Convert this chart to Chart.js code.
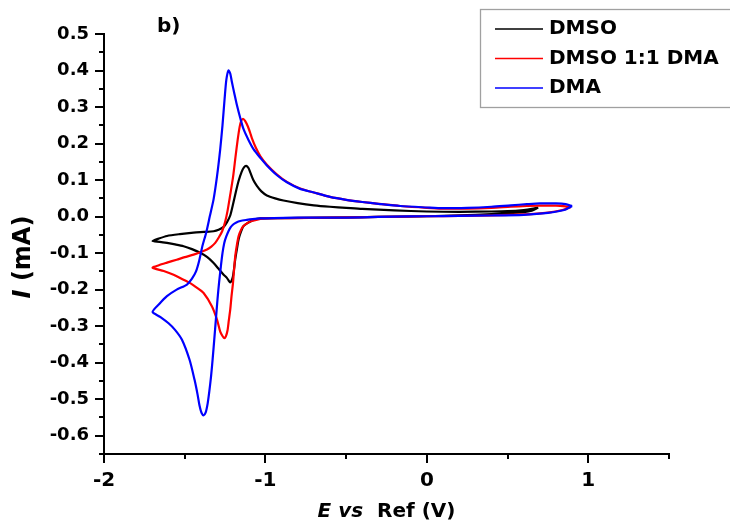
<!DOCTYPE html>
<html>
<head>
<meta charset="utf-8">
<script src="https://cdn.jsdelivr.net/npm/chart.js@4.4.0/dist/chart.umd.min.js"></script>
<style>
  html, body { margin: 0; padding: 0; background: #fff; }
</style>
</head>
<body>
<canvas id="cv" width="730" height="523"></canvas>
<script>
// Cyclic voltammograms: each loop starts at the positive switching potential,
// runs the cathodic sweep down to -1.7 V and the anodic sweep back.
const seriesNames = ['DMSO', 'DMSO 1:1 DMA', 'DMA'];
const seriesColors = ['#000000', '#ff0000', '#0000ff'];

// DMSO
const dmsoE = [0.69, 0.65, 0.60, 0.50, 0.30, 0.00, -0.30, -0.60, -0.90, -1.03, -1.074, -1.105, -1.136, -1.152,
  -1.166, -1.177, -1.187, -1.195, -1.201, -1.210, -1.218, -1.228, -1.240, -1.259, -1.290, -1.321, -1.360,
  -1.404, -1.455, -1.507, -1.560, -1.610, -1.655, -1.699,
  -1.660, -1.610, -1.530, -1.445, -1.380, -1.321, -1.290, -1.259, -1.238, -1.218, -1.200, -1.183, -1.166,
  -1.148, -1.133, -1.119, -1.105, -1.094, -1.075, -1.053, -1.025, -0.991, -0.940, -0.888, -0.800, -0.700,
  -0.600, -0.500, -0.400, -0.200, 0.000, 0.200, 0.400, 0.500, 0.600, 0.650, 0.690];
const dmsoI = [0.025, 0.016, 0.012, 0.009, 0.005, 0.001, -0.001, -0.003, -0.004, -0.005, -0.009, -0.016, -0.026, -0.042,
  -0.062, -0.090, -0.117, -0.145, -0.163, -0.176, -0.180, -0.175, -0.167, -0.159, -0.143, -0.127, -0.111,
  -0.099, -0.089, -0.081, -0.076, -0.072, -0.069, -0.067,
  -0.060, -0.053, -0.048, -0.044, -0.042, -0.040, -0.036, -0.028, -0.015, 0.003, 0.035, 0.068, 0.098,
  0.122, 0.135, 0.139, 0.133, 0.121, 0.100, 0.084, 0.069, 0.058, 0.050, 0.044, 0.037, 0.031,
  0.027, 0.024, 0.021, 0.017, 0.014, 0.013, 0.014, 0.015, 0.018, 0.021, 0.025];

// DMSO 1:1 DMA
const mixE = [0.89, 0.84, 0.75, 0.60, 0.40, 0.20, 0.00, -0.30, -0.60, -0.85, -1.00, -1.032, -1.084, -1.110,
  -1.136, -1.152, -1.166, -1.177, -1.187, -1.195, -1.201, -1.210, -1.218, -1.227, -1.235, -1.245, -1.255,
  -1.266, -1.280, -1.300, -1.331, -1.383, -1.430, -1.466, -1.520, -1.569, -1.630, -1.699,
  -1.660, -1.610, -1.550, -1.500, -1.445, -1.400, -1.362, -1.335, -1.311, -1.290, -1.268, -1.250, -1.235,
  -1.218, -1.200, -1.185, -1.172, -1.160, -1.150, -1.139, -1.126, -1.110, -1.095, -1.084, -1.060, -1.030,
  -0.991, -0.930, -0.867, -0.785, -0.700, -0.600, -0.500, -0.400, -0.300, -0.165, 0.000, 0.100, 0.250,
  0.400, 0.520, 0.620, 0.700, 0.800, 0.860, 0.890];
const mixI = [0.026, 0.018, 0.011, 0.006, 0.003, 0.002, 0.001, -0.001, -0.003, -0.004, -0.005, -0.006, -0.012, -0.017,
  -0.026, -0.037, -0.053, -0.078, -0.108, -0.150, -0.182, -0.218, -0.255, -0.285, -0.312, -0.328, -0.333,
  -0.327, -0.315, -0.282, -0.246, -0.209, -0.193, -0.182, -0.170, -0.159, -0.149, -0.140,
  -0.133, -0.126, -0.118, -0.111, -0.104, -0.097, -0.090, -0.082, -0.072, -0.058, -0.040, -0.015, 0.015,
  0.060, 0.110, 0.165, 0.210, 0.245, 0.262, 0.268, 0.262, 0.248, 0.230, 0.215, 0.189, 0.164,
  0.142, 0.116, 0.095, 0.077, 0.066, 0.054, 0.046, 0.040, 0.035, 0.029, 0.024, 0.022, 0.022,
  0.024, 0.027, 0.029, 0.030, 0.030, 0.028, 0.026];

// DMA
const dmaE = [0.90, 0.85, 0.75, 0.60, 0.40, 0.20, 0.00, -0.20, -0.40, -0.60, -0.80, -0.95, -1.030, -1.080,
  -1.115, -1.156, -1.180, -1.198, -1.215, -1.229, -1.243, -1.255, -1.266, -1.276, -1.287, -1.297, -1.307,
  -1.317, -1.327, -1.337, -1.348, -1.358, -1.370, -1.383, -1.396, -1.408, -1.420, -1.439, -1.470, -1.517,
  -1.560, -1.600, -1.650, -1.699,
  -1.655, -1.610, -1.550, -1.486, -1.455, -1.430, -1.410, -1.390, -1.367, -1.345, -1.321, -1.300, -1.280,
  -1.266, -1.253, -1.242, -1.229, -1.218, -1.208, -1.192, -1.176, -1.156, -1.136, -1.105, -1.074, -1.030,
  -0.991, -0.930, -0.867, -0.785, -0.700, -0.600, -0.500, -0.400, -0.300, -0.165, 0.000, 0.100, 0.250,
  0.400, 0.520, 0.620, 0.700, 0.800, 0.860, 0.900];
const dmaI = [0.029, 0.018, 0.010, 0.005, 0.003, 0.002, 0.001, 0.000, -0.002, -0.003, -0.003, -0.004, -0.005, -0.007,
  -0.009, -0.012, -0.016, -0.021, -0.029, -0.040, -0.055, -0.072, -0.100, -0.136, -0.180, -0.227, -0.282,
  -0.337, -0.390, -0.438, -0.480, -0.512, -0.536, -0.544, -0.537, -0.518, -0.488, -0.447, -0.392, -0.337,
  -0.310, -0.292, -0.275, -0.261,
  -0.238, -0.218, -0.200, -0.186, -0.170, -0.150, -0.120, -0.080, -0.044, 0.000, 0.048, 0.110, 0.185,
  0.250, 0.322, 0.375, 0.400, 0.392, 0.369, 0.336, 0.304, 0.270, 0.240, 0.210, 0.185, 0.160,
  0.140, 0.114, 0.094, 0.076, 0.066, 0.054, 0.046, 0.040, 0.035, 0.029, 0.025, 0.023, 0.024,
  0.027, 0.031, 0.034, 0.036, 0.036, 0.034, 0.029];

// axis ranges and labelled ticks
const xMin = -2, xMax = 1.5;
const yMin = -0.65, yMax = 0.5;
const xTicks = [-2, -1, 0, 1];
const yTicks = [-0.6, -0.5, -0.4, -0.3, -0.2, -0.1, 0.0, 0.1, 0.2, 0.3, 0.4, 0.5];

const FONT = "'DejaVu Sans', sans-serif";

const toPoints = (E, I) => E.map((e, i) => ({ x: e, y: I[i] }));

// draws the tick marks (major + minor), axis titles, panel tag and legend box
const decor = {
  id: 'decor',
  afterDraw(chart) {
    const ctx = chart.ctx;
    const xs = chart.scales.x, ys = chart.scales.y;
    const a = chart.chartArea;
    ctx.save();
    ctx.strokeStyle = '#000';
    ctx.lineWidth = 2;

    const xStep = (xTicks[1] - xTicks[0]) / 2;
    for (let k = 0; xTicks[0] + k * xStep <= xMax + 1e-9; k++) {
      const v = xTicks[0] + k * xStep;
      const px = Math.round(xs.getPixelForValue(v));
      const len = k % 2 === 0 ? 9 : 5;
      ctx.beginPath();
      ctx.moveTo(px, a.bottom);
      ctx.lineTo(px, a.bottom + len);
      ctx.stroke();
    }
    const yStep = 0.05;
    for (let k = 0; yMin + k * yStep <= yMax + 1e-9; k++) {
      const v = yMin + k * yStep;
      const py = Math.round(ys.getPixelForValue(v));
      const major = yTicks.some(t => Math.abs(t - v) < 1e-6);
      ctx.beginPath();
      ctx.moveTo(a.left, py);
      ctx.lineTo(a.left - (major ? 9 : 5), py);
      ctx.stroke();
    }

    // rich-text titles (italic symbols)
    const bold = s => `bold ${s}px ${FONT}`;
    const ital = s => `italic bold ${s}px ${FONT}`;
    const drawParts = (parts, cx, cy) => {
      let total = 0;
      parts.forEach(p => { ctx.font = p[1]; total += ctx.measureText(p[0]).width; });
      let x = cx - total / 2;
      ctx.textBaseline = 'middle';
      ctx.textAlign = 'left';
      ctx.fillStyle = '#000';
      parts.forEach(p => { ctx.font = p[1]; ctx.fillText(p[0], x, cy); x += ctx.measureText(p[0]).width; });
    };
    drawParts([['E', ital(20)], [' ', bold(20)], ['vs', ital(20)], ['  Ref (V)', bold(20)]], (a.left + a.right) / 2, 512);

    ctx.save();
    ctx.translate(24, 257);
    ctx.rotate(-Math.PI / 2);
    drawParts([['I', ital(24)], [' (mA)', bold(24)]], 0, 0);
    ctx.restore();

    ctx.font = bold(20);
    ctx.textAlign = 'left';
    ctx.textBaseline = 'middle';
    ctx.fillText('b)', 157, 27);

    // legend
    ctx.fillStyle = '#fff';
    ctx.fillRect(480, 9, 260, 98);
    ctx.strokeStyle = '#a0a0a0';
    ctx.lineWidth = 1.3;
    ctx.strokeRect(480.5, 9.5, 260, 98);
    chart.data.datasets.forEach((ds, i) => {
      const y = 29 + i * 29.5;
      ctx.strokeStyle = ds.borderColor;
      ctx.lineWidth = 1.5;
      ctx.beginPath();
      ctx.moveTo(495, y);
      ctx.lineTo(543, y);
      ctx.stroke();
      ctx.fillStyle = '#000';
      ctx.font = bold(20);
      ctx.fillText(ds.label, 549, y);
    });
    ctx.restore();
  }
};

new Chart(document.getElementById('cv'), {
  type: 'line',
  data: {
    datasets: [
      { label: seriesNames[0], data: toPoints(dmsoE, dmsoI), borderColor: seriesColors[0], order: 3 },
      { label: seriesNames[1], data: toPoints(mixE, mixI), borderColor: seriesColors[1], order: 2 },
      { label: seriesNames[2], data: toPoints(dmaE, dmaI), borderColor: seriesColors[2], order: 1 }
    ]
  },
  options: {
    responsive: false,
    animation: false,
    elements: {
      point: { radius: 0 },
      line: { borderWidth: 2.2, tension: 0.25, fill: false }
    },
    layout: { padding: { top: 34, right: 61, left: 0, bottom: 0 } },
    plugins: { legend: { display: false }, tooltip: { enabled: false } },
    scales: {
      x: {
        type: 'linear', min: xMin, max: xMax,
        afterBuildTicks: s => { s.ticks = xTicks.map(v => ({ value: v })); },
        afterFit: s => { s.height = 69; },
        grid: { display: false, drawTicks: false },
        border: { display: true, color: '#000', width: 2 },
        ticks: {
          padding: 15, color: '#000', maxRotation: 0, autoSkip: false,
          font: { family: FONT, size: 20, weight: 'bold' },
          callback: v => String(v)
        }
      },
      y: {
        type: 'linear', min: yMin, max: yMax,
        afterBuildTicks: s => { s.ticks = yTicks.map(v => ({ value: v })); },
        afterFit: s => { s.width = 104; },
        grid: { display: false, drawTicks: false },
        border: { display: true, color: '#000', width: 2 },
        ticks: {
          padding: 15, color: '#000', autoSkip: false,
          font: { family: FONT, size: 18, weight: 'bold' },
          callback: v => v.toFixed(1)
        }
      }
    }
  },
  plugins: [decor]
});
</script>
</body>
</html>
